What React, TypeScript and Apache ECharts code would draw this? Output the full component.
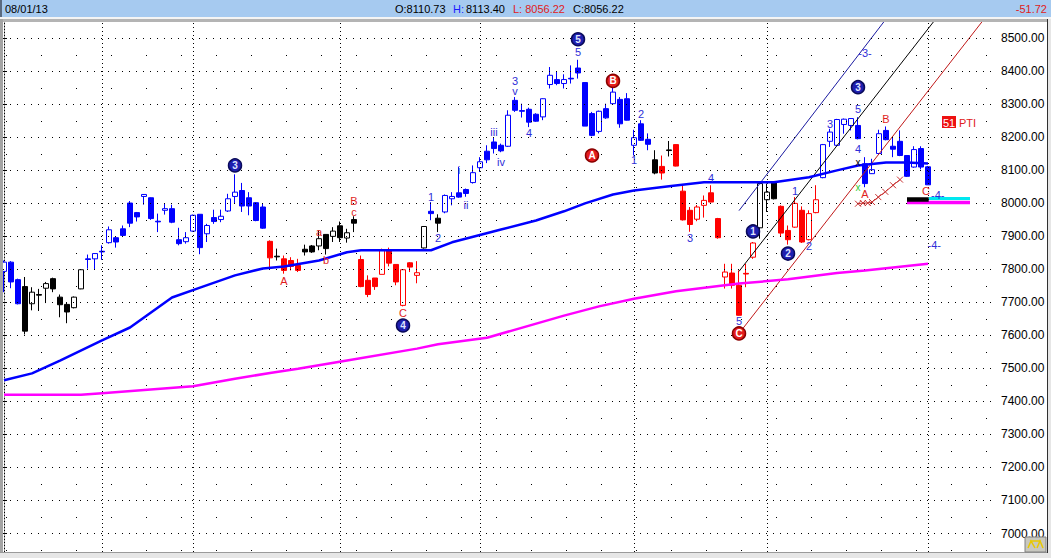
import React, { useEffect, useRef } from 'react';
import * as echarts from 'echarts';

// ---------- DATA ----------
const lastDate = '08/01/13';
const change = -51.72;

const opens = [7794,7822,7769,7748,7696,7724,7743,7772,7716,7694,7684,7741,7832,7832,7855,7881,7896,7923,8001,7972,8021,8017,7946,7979,7984,7890,7884,7916,7967,7908,7957,7951,7977,8021,8039,8017,8002,7989,7885,7840,7832,7827,7812,7861,7871,7871,7906,7900,7932,7895,7951,7830,7767,7774,7785,7860,7815,7691,7820,7782,7865,7976,7955,7974,8014,8032,8042,8063,8108,8158,8186,8176,8173,8312,8281,8285,8270,8262,8360,8375,8363,8379,8410,8366,8272,8218,8287,8302,8315,8317,8176,8241,8194,8132,8112,8162,8178,8037,7979,7952,7994,8032,7954,7777,7789,7752,7788,7837,7926,8011,8062,7991,7918,7928,7979,7890,7972,8078,8188,8176,8239,8236,8236,8120,8090,8151,8221,8173,8188,8145,8110,8166,8110.73];
const highs = [7827,7825,7772,7777,7746,7741,7762,7775,7724,7701,7718,7800,7845,7849,7873,7930,7900,7933,8007,7974,8028,8018,7969,7999,7996,7926,7913,7966,7967,7938,7981,7981,8029,8088,8062,8034,8004,7999,7888,7863,7842,7837,7832,7875,7874,7918,7906,7928,7945,7923,7961,7842,7782,7774,7863,7866,7815,7800,7822,7825,7931,8004,7967,8027,8034,8110,8045,8115,8140,8176,8201,8181,8282,8322,8302,8290,8273,8318,8413,8398,8391,8418,8435,8367,8277,8281,8302,8352,8322,8334,8223,8252,8212,8161,8145,8189,8179,8055,7989,7995,8024,8055,7956,7817,7817,7797,7817,7883,8062,8060,8063,7994,7933,8019,7991,7979,8055,8180,8226,8256,8257,8258,8261,8140,8135,8223,8233,8201,8221,8146,8173,8173,8113.40];
const lows = [7731,7743,7694,7603,7676,7674,7698,7731,7655,7637,7682,7740,7802,7799,7829,7878,7866,7898,7928,7945,7996,7950,7913,7966,7940,7873,7878,7914,7846,7883,7938,7943,7974,7999,7974,7964,7946,7923,7807,7827,7787,7797,7792,7842,7850,7858,7845,7883,7883,7881,7913,7746,7716,7738,7785,7809,7752,7688,7792,7758,7863,7949,7913,7970,7994,8017,8020,8060,8095,8122,8151,8155,8171,8277,8260,8231,8247,8252,8348,8358,8348,8363,8378,8234,8203,8212,8256,8300,8229,8251,8145,8189,8161,8088,8072,8142,8112,7948,7914,7946,7957,8003,7893,7742,7742,7660,7746,7832,7893,7974,8012,7899,7875,7926,7880,7888,7970,8076,8171,8173,8211,8221,8194,8049,8089,8150,8191,8140,8143,8080,8108,8103,8056.22];
const closes = [7822,7762,7696,7613,7731,7722,7757,7741,7693,7671,7716,7799,7830,7848,7853,7920,7883,7903,7940,7959,8027,7954,7944,7984,7943,7878,7896,7964,7866,7933,7945,7961,8014,8034,7992,7992,7948,7925,7835,7838,7797,7809,7797,7853,7853,7893,7863,7916,7896,7911,7940,7748,7724,7748,7858,7819,7762,7799,7807,7790,7930,7969,7940,8024,8021,8019,8030,8093,8126,8132,8166,8159,8267,8282,8279,8246,8249,8317,8388,8363,8375,8377,8395,8234,8206,8279,8259,8337,8241,8252,8199,8191,8179,8092,8092,8160,8113,7950,7936,7989,8009,8004,7896,7792,7752,7661,7786,7880,8060,8034,8014,7910,7890,8000,7883,7969,8011,8178,8216,8254,8255,8257,8196,8060,8102,8211,8193,8164,8145,8082,8163,8110,8056.22];
// trend colour code per bar: B blue, R red, K black
const trend = 'BBBKKKKKKKKKBBBBBBBBBBBBBBBBBBBBBBBBBBRKRRRKKKKKKKKRRRRRRRRRKBKBBBBBBBBBBBBBBBBBBBBBBBBBBBBBBKRKRRRRRRRRRRRRKKKRRRRRRBBBBBBBBBBBBBBBB';

const maBlueIdx = [0,4,8,14,18,24,28,33,37,40,45,49,51,61,64,71,76,80,83,87,90,95,100,110,115,119,122,126,129,132];
const maBlueVal = [7464,7485,7524,7585,7624,7715,7745,7782,7803,7809,7827,7852,7858,7858,7882,7921,7948,7976,8000,8027,8039,8052,8064,8064,8079,8100,8115,8124,8124,8121];
const maPinkIdx = [0,11,14,27,33,38,42,49,59,62,69,80,85,90,96,105,112,119,123,132];
const maPinkVal = [7420,7420,7425,7446,7469,7486,7499,7524,7560,7573,7593,7660,7688,7711,7734,7757,7770,7789,7797,7817];

const priceTicks = [7000,7100,7200,7300,7400,7500,7600,7700,7800,7900,8000,8100,8200,8300,8400,8500];
const halfTicks = [6950,7050,7150,7250,7350,7450,7550,7650,7750,7850,7950,8050,8150,8250,8350,8450];
const monthStarts = [14,27,48,68,90,109,132];

const channelBlue = [[105,7978],[127,8586]];
const channelBlack = [[105,7794],[134,8583]];
const channelRed = [[105,7606],[141,8585]];
const crossCurve = [[122,7999],[122.7,8001],[123.4,8001],[124,8004],[124.9,8019],[125.9,8035],[127,8055],[128,8072]];
const targetBlack = [[129,8012],[132.1,8012]];
const targetCyan = [[132.1,8015],[138,8015]];
const targetPink = [[129,8003],[138,8003]];
const lastPriceMark = 8123.72;

const blueCircles: [number, number, string][] = [
  [33,8115,'3'],[57,7630,'4'],[82,8497,'5'],[107,7915,'1'],[112,7848,'2'],[122,8352,'3'],
];
const redCircles: [number, number, string][] = [
  [84,8145,'A'],[87,8371,'B'],[105,7606,'C'],
];
const blueLabels: [number, number, string][] = [
  [61,8019,'1'],[62,7894,'2'],[65,8100,'i'],[66,7994,'ii'],[70,8216,'iii'],[71,8124,'iv'],
  [73,8370,'3'],[73,8339,'v'],[75,8212,'4'],[82,8458,'5'],[90,8130,'1'],[91,8270,'2'],
  [98,7894,'3'],[101,8076,'4'],[105,7645,'5'],[113,8039,'1'],[115,7870,'2'],[118,8239,'3'],
  [122,8285,'5'],[122,8164,'4'],[123,8455,'-3-'],[133.4,8025,'-4-'],[132.9,7873,'-4-'],
];
const redLabels: [number, number, string][] = [
  [40,7764,'A'],[45,7912,'a'],[46,7827,'b'],[50,8006,'B'],[50,7973,'c'],[57,7667,'C'],
  [123,8027,'A'],[126,8255,'B'],[131.7,8038,'C'],
];
const markX: [number, number, string, string][] = [
  [122,8124,'x','#000000'],[122,8048,'x','#33cc33'],
];

const COLORS: Record<string, string> = { B: '#0000ff', R: '#ff0000', K: '#000000' };
const FONT = '"Liberation Sans", Arial, sans-serif';

export default function App() {
  const ref = useRef<HTMLDivElement>(null);
  useEffect(() => {
    if (!ref.current) return;
    const chart = echarts.init(ref.current, undefined, { renderer: 'svg' });
    const last = closes.length - 1;

    const candles = opens.map((o, i) => {
      const c = COLORS[trend[i]];
      const fill = closes[i] > o ? '#ffffff' : c;
      return {
        value: [i, o, closes[i], lows[i], highs[i]],
        itemStyle: { color: fill, color0: fill, borderColor: c, borderColor0: c, borderColorDoji: c },
      };
    });

    const gridLines: any[] = [
      ...halfTicks.map((v) => ({ yAxis: v, lineStyle: { color: '#000', width: 1, type: [1, 34], dashOffset: 31.5 } })),
      ...priceTicks.map((v) => ({ yAxis: v, lineStyle: { color: '#000', width: 1, type: [1, 6], dashOffset: 0 } })),
      ...monthStarts.map((v) => ({ xAxis: v, lineStyle: { color: '#000', width: 1, type: [1, 3] } })),
    ];

    const textSeries = (items: [number, number, string][], color: string, size = 11) => ({
      type: 'scatter',
      z: 8,
      symbolSize: 1,
      itemStyle: { color: 'rgba(0,0,0,0)', opacity: 1 },
      data: items.map(([x, y, t]) => ({ value: [x, y], name: t })),
      label: { show: true, position: 'inside', formatter: '{b}', color, fontSize: size, fontFamily: FONT, opacity: 1 },
      silent: true,
    });
    const circleSeries = (items: [number, number, string][], fill: string, border: string, txt: string) => ({
      type: 'scatter',
      z: 9,
      symbol: 'circle',
      symbolSize: 13,
      itemStyle: { color: fill, borderColor: border, borderWidth: 1.5, opacity: 1 },
      data: items.map(([x, y, t]) => ({ value: [x, y], name: t })),
      label: { show: true, position: 'inside', formatter: '{b}', color: txt, fontSize: 10, fontWeight: 'bold', fontFamily: FONT },
      silent: true,
    });
    const segLine = (data: number[][], color: string, width: number, z = 4) => ({
      type: 'line',
      z,
      data,
      symbol: 'none',
      lineStyle: { color, width },
      silent: true,
    });

    const option: any = {
      animation: false,
      backgroundColor: '#ffffff',
      grid: { left: 3, top: 22, width: 994, height: 530, containLabel: false },
      xAxis: { type: 'value', min: -1 / 7, max: 142 - 1 / 7, show: false },
      yAxis: {
        type: 'value',
        position: 'right',
        min: 6944,
        max: 8549.4,
        axisLine: { show: true, lineStyle: { color: '#000', width: 1, type: [1, 2] } },
        axisTick: { show: true, length: 3, customValues: priceTicks, lineStyle: { color: '#000' } },
        axisLabel: {
          customValues: priceTicks,
          margin: 4,
          color: '#000',
          fontSize: 12,
          fontFamily: FONT,
          formatter: (v: number) => v.toFixed(2),
        },
        splitLine: { show: false },
      },
      series: [
        {
          type: 'line',
          z: 1,
          data: [[0, maPinkVal[0]]],
          symbol: 'none',
          lineStyle: { opacity: 0 },
          silent: true,
          markLine: { silent: true, symbol: ['none', 'none'], label: { show: false }, data: gridLines },
        },
        {
          type: 'candlestick',
          z: 3,
          barWidth: 5,
          encode: { x: 0, y: [1, 2, 3, 4] },
          data: candles,
          itemStyle: { borderWidth: 1 },
          silent: true,
          markLine: {
            silent: true,
            symbol: ['none', 'none'],
            lineStyle: { opacity: 0 },
            label: {
              show: true,
              position: 'end',
              distance: 4,
              formatter: lastPriceMark.toFixed(2),
              color: '#000',
              fontSize: 12,
              fontFamily: FONT,
              backgroundColor: '#a6caf0',
              borderColor: '#000',
              borderWidth: 1,
              padding: [1, 1, 0, 2],
            },
            data: [{ yAxis: lastPriceMark }],
          },
        },
        {
          type: 'line', z: 5, symbol: 'none', silent: true,
          data: maPinkIdx.map((x, i) => [x, maPinkVal[i]]),
          lineStyle: { color: '#ff00ff', width: 2.5 },
        },
        {
          type: 'line', z: 5, symbol: 'none', silent: true,
          data: maBlueIdx.map((x, i) => [x, maBlueVal[i]]),
          lineStyle: { color: '#0000ff', width: 2.5 },
        },
        segLine(channelBlue, '#1a1aa0', 1),
        segLine(channelBlack, '#000000', 1),
        segLine(channelRed, '#c01818', 1),
        {
          type: 'line', z: 6, silent: true,
          data: crossCurve,
          lineStyle: { color: '#c83030', width: 1 },
          symbol: 'path://M0 0L10 10M10 0L0 10',
          symbolSize: 6,
          itemStyle: { color: 'none', borderColor: '#c83030', borderWidth: 1 },
        },
        segLine(targetPink, '#ff00ff', 3.5, 6),
        segLine(targetCyan, '#00e8f0', 3, 6),
        segLine(targetBlack, '#000000', 4.5, 7),
        textSeries(blueLabels, '#2e2ed8'),
        textSeries(redLabels, '#e01e1e'),
        {
          type: 'scatter', z: 8, symbolSize: 1, itemStyle: { color: 'rgba(0,0,0,0)', opacity: 1 }, silent: true,
          data: markX.map(([x, y, t, c]) => ({ value: [x, y], name: t, label: { color: c } })),
          label: { show: true, position: 'inside', formatter: '{b}', fontSize: 10, fontFamily: FONT },
        },
        circleSeries(blueCircles, '#1f1fb0', '#0a0a5a', '#dfe4ff'),
        circleSeries(redCircles, '#e41c1c', '#8a0000', '#ffffff'),
      ],
      graphic: [
        { type: 'rect', z: 100, shape: { x: 0, y: 0, width: 1051, height: 17 }, style: { fill: '#a6caf0' } },
        { type: 'rect', z: 100, shape: { x: 0, y: 0, width: 2, height: 17 }, style: { fill: '#5a6a80' } },
        { type: 'rect', z: 100, shape: { x: 0, y: 17, width: 1051, height: 2 }, style: { fill: '#f4f4f4' } },
        { type: 'rect', z: 100, shape: { x: 0, y: 19, width: 1051, height: 3 }, style: { fill: '#b4b4b4' } },
        { type: 'rect', z: 100, shape: { x: 0, y: 19, width: 3, height: 534 }, style: { fill: '#a4a4a4' } },
        { type: 'rect', z: 100, shape: { x: 0, y: 552, width: 1051, height: 6 }, style: { fill: '#e6e6e6' } },
        { type: 'rect', z: 100, shape: { x: 0, y: 552, width: 1051, height: 1 }, style: { fill: '#9a9a9a' } },
        { type: 'rect', z: 100, shape: { x: 1047, y: 19, width: 1, height: 534 }, style: { fill: '#303030' } },
        { type: 'rect', z: 100, shape: { x: 1048, y: 19, width: 3, height: 534 }, style: { fill: '#e6e6e6' } },
        { type: 'rect', z: 100, shape: { x: 1025, y: 537, width: 21, height: 15 }, style: { fill: '#c8c8c0', stroke: '#808080', lineWidth: 1 } },
        { type: 'polyline', z: 101, shape: { points: [[1028, 548], [1031, 541], [1035, 548], [1031, 541], [1040, 541], [1037, 548], [1040, 541], [1043, 548]] }, style: { stroke: '#e8c800', lineWidth: 1.5, fill: 'none' } },
        { type: 'text', z: 101, x: 5, y: 9, style: { text: lastDate, fill: '#000', font: `11px ${FONT}`, verticalAlign: 'middle' } },
        { type: 'text', z: 101, x: 395, y: 9, style: { text: `O:${opens[last].toFixed(2)}`, fill: '#000', font: `11px ${FONT}`, verticalAlign: 'middle' } },
        { type: 'text', z: 101, x: 453, y: 9, style: { text: 'H:', fill: '#1a1aff', font: `11px ${FONT}`, verticalAlign: 'middle' } },
        { type: 'text', z: 101, x: 466, y: 9, style: { text: highs[last].toFixed(2), fill: '#000', font: `11px ${FONT}`, verticalAlign: 'middle' } },
        { type: 'text', z: 101, x: 513, y: 9, style: { text: `L: ${lows[last].toFixed(2)}`, fill: '#e02020', font: `11px ${FONT}`, verticalAlign: 'middle' } },
        { type: 'text', z: 101, x: 573, y: 9, style: { text: `C:${closes[last].toFixed(2)}`, fill: '#000', font: `11px ${FONT}`, verticalAlign: 'middle' } },
        { type: 'text', z: 101, x: 1047, y: 9, style: { text: change.toFixed(2), fill: '#e02020', font: `11px ${FONT}`, align: 'right', verticalAlign: 'middle' } },
        { type: 'rect', z: 101, shape: { x: 942, y: 116, width: 14, height: 12 }, style: { fill: '#ee1111' } },
        { type: 'text', z: 102, x: 949, y: 122.5, style: { text: '51', fill: '#ffffff', font: `11px ${FONT}`, align: 'center', verticalAlign: 'middle' } },
        { type: 'text', z: 102, x: 959, y: 122.5, style: { text: 'PTI', fill: '#e02020', font: `11px ${FONT}`, verticalAlign: 'middle' } },
      ],
    };
    chart.setOption(option);
    return () => chart.dispose();
  }, []);
  return <div ref={ref} style={{ position: 'fixed', left: 0, top: 0, width: 1051, height: 558 }} />;
}
